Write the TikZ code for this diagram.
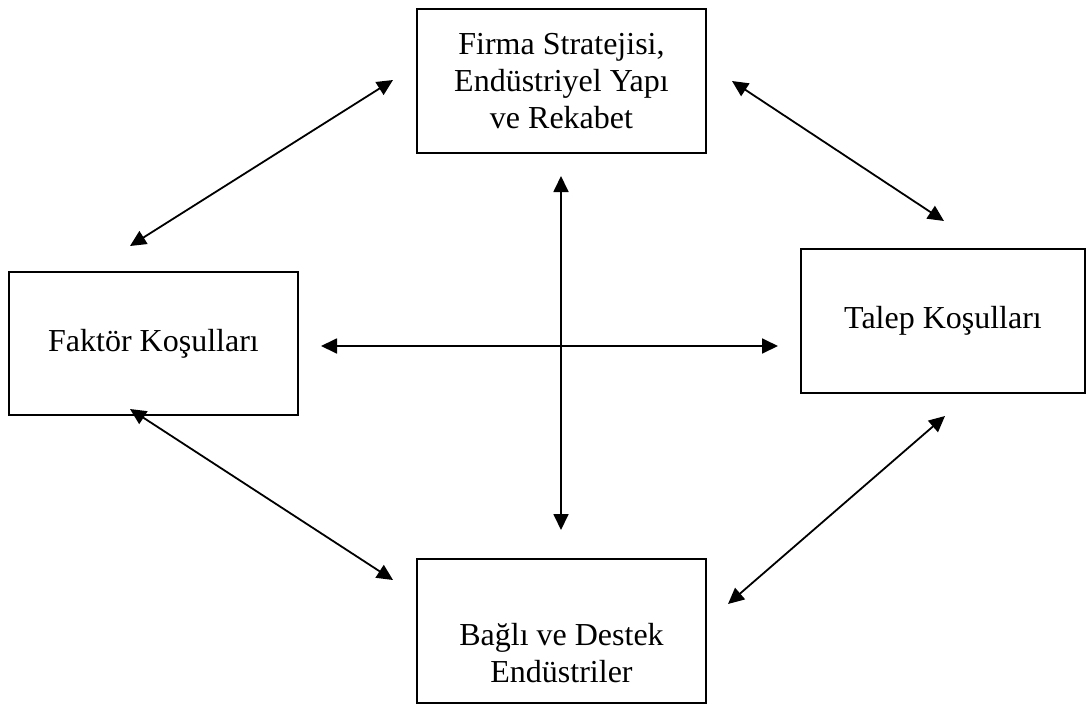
\documentclass[tikz,border=0pt]{standalone}
\usepackage{fontspec}
\setmainfont{Liberation Serif}
\usetikzlibrary{arrows.meta}

\begin{document}
\begin{tikzpicture}
            [x=1pt,y=-1pt,
             every node/.style={draw=black,line width=1.8pt,align=center,font=\fontsize{32}{37}\selectfont},
             twoway/.style={{Triangle[length=16pt,width=15pt]}-{Triangle[length=16pt,width=15pt]},line width=1.8pt}]

            \useasboundingbox (0,0) rectangle (1087,704);

            \node[minimum width=289,minimum height=144] (firma) at (561.5,81) {Firma Stratejisi,\\Endüstriyel Yapı\\ve Rekabet};
            \node[minimum width=289,minimum height=143] (faktor) at (153.5,343.5) {Faktör Koşulları};
            \node[minimum width=284,minimum height=144] (talep) at (943,321) {Talep Koşulları};
            \node[minimum width=289,minimum height=144,text height=104] (bagli) at (561.5,631) {Bağlı ve Destek\\Endüstriler};

            \coordinate (a1) at (130,246);  \coordinate (b1) at (393,80);
            \coordinate (a2) at (732,81);   \coordinate (b2) at (944,221);
            \coordinate (a3) at (321,346);  \coordinate (b3) at (778,346);
            \coordinate (a4) at (561,176);  \coordinate (b4) at (561,530);
            \coordinate (a5) at (130,409);  \coordinate (b5) at (393,580);
            \coordinate (a6) at (945,416);  \coordinate (b6) at (728,604);

            \foreach \from/\to in {a1/b1,a2/b2,a3/b3,a4/b4,a5/b5,a6/b6}
              \draw[twoway] (\from) -- (\to);

          \end{tikzpicture}
\end{document}
